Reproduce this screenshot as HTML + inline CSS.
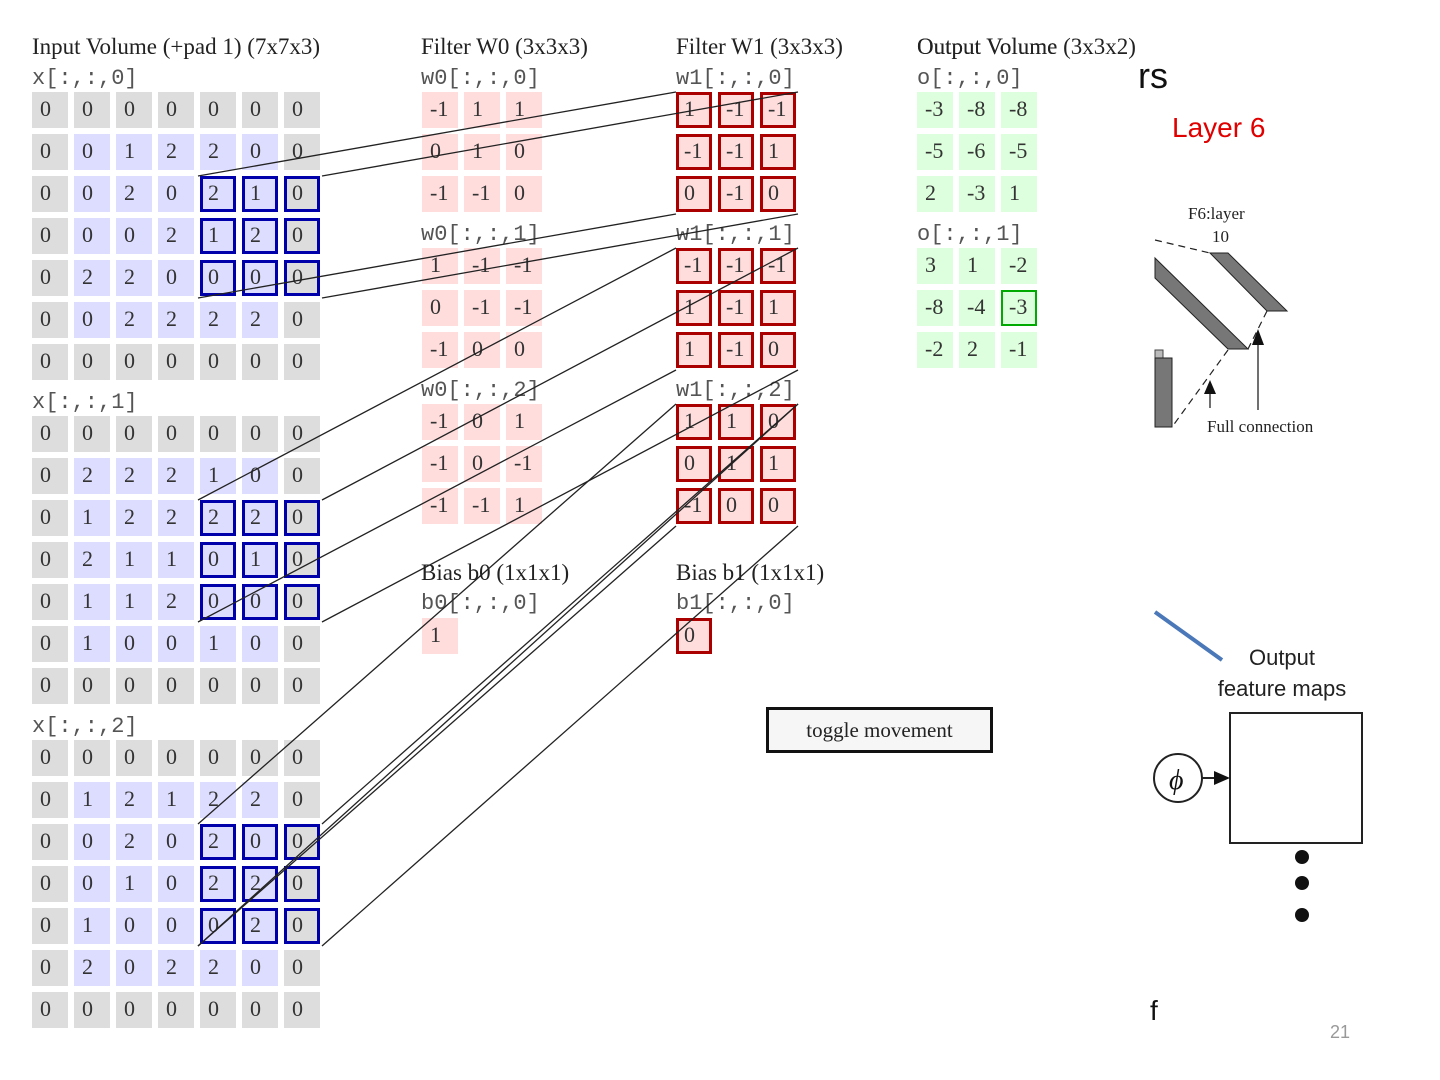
<!DOCTYPE html>
<html><head><meta charset="utf-8"><style>
body{margin:0;width:1440px;height:1080px;background:#fff;position:relative;overflow:hidden;font-family:"Liberation Serif",serif;}
.t{position:absolute;font-size:23px;color:#222;white-space:nowrap;}
.m{position:absolute;font-family:"Liberation Mono",monospace;font-size:22px;color:#555;white-space:nowrap;}
.g{position:absolute;}
.r{display:flex;height:36px;margin-bottom:6px;}
.r div{width:36px;height:36px;margin-right:6px;box-sizing:border-box;font-size:22px;line-height:34px;padding-left:8px;color:#333;flex:none;}
.p{background:#dddddd;}.i{background:#ddddff;}
.r div.s{border:2px solid #0000aa;box-shadow:inset 0 0 0 1px #0000aa;padding-left:6px;line-height:30px;}
.w .r div{background:#ffdddd;}
.w1 .r div{background:#ffdddd;border:2px solid #aa0000;box-shadow:inset 0 0 0 1px #aa0000;padding-left:6px;line-height:30px;}
.o .r div{background:#ddffdd;}
.o .r div.hl{border:2px solid #00aa00;padding-left:6px;line-height:30px;}
</style></head><body>
<div class="t" style="left:32px;top:34px">Input Volume (+pad 1) (7x7x3)</div>
<div class="m" style="left:32px;top:66px">x[:,:,0]</div>
<div class="g" style="left:32px;top:92px">
<div class="r"><div class="p">0</div><div class="p">0</div><div class="p">0</div><div class="p">0</div><div class="p">0</div><div class="p">0</div><div class="p">0</div></div>
<div class="r"><div class="p">0</div><div class="i">0</div><div class="i">1</div><div class="i">2</div><div class="i">2</div><div class="i">0</div><div class="p">0</div></div>
<div class="r"><div class="p">0</div><div class="i">0</div><div class="i">2</div><div class="i">0</div><div class="i s">2</div><div class="i s">1</div><div class="p s">0</div></div>
<div class="r"><div class="p">0</div><div class="i">0</div><div class="i">0</div><div class="i">2</div><div class="i s">1</div><div class="i s">2</div><div class="p s">0</div></div>
<div class="r"><div class="p">0</div><div class="i">2</div><div class="i">2</div><div class="i">0</div><div class="i s">0</div><div class="i s">0</div><div class="p s">0</div></div>
<div class="r"><div class="p">0</div><div class="i">0</div><div class="i">2</div><div class="i">2</div><div class="i">2</div><div class="i">2</div><div class="p">0</div></div>
<div class="r"><div class="p">0</div><div class="p">0</div><div class="p">0</div><div class="p">0</div><div class="p">0</div><div class="p">0</div><div class="p">0</div></div>
</div>
<div class="m" style="left:32px;top:390px">x[:,:,1]</div>
<div class="g" style="left:32px;top:416px">
<div class="r"><div class="p">0</div><div class="p">0</div><div class="p">0</div><div class="p">0</div><div class="p">0</div><div class="p">0</div><div class="p">0</div></div>
<div class="r"><div class="p">0</div><div class="i">2</div><div class="i">2</div><div class="i">2</div><div class="i">1</div><div class="i">0</div><div class="p">0</div></div>
<div class="r"><div class="p">0</div><div class="i">1</div><div class="i">2</div><div class="i">2</div><div class="i s">2</div><div class="i s">2</div><div class="p s">0</div></div>
<div class="r"><div class="p">0</div><div class="i">2</div><div class="i">1</div><div class="i">1</div><div class="i s">0</div><div class="i s">1</div><div class="p s">0</div></div>
<div class="r"><div class="p">0</div><div class="i">1</div><div class="i">1</div><div class="i">2</div><div class="i s">0</div><div class="i s">0</div><div class="p s">0</div></div>
<div class="r"><div class="p">0</div><div class="i">1</div><div class="i">0</div><div class="i">0</div><div class="i">1</div><div class="i">0</div><div class="p">0</div></div>
<div class="r"><div class="p">0</div><div class="p">0</div><div class="p">0</div><div class="p">0</div><div class="p">0</div><div class="p">0</div><div class="p">0</div></div>
</div>
<div class="m" style="left:32px;top:714px">x[:,:,2]</div>
<div class="g" style="left:32px;top:740px">
<div class="r"><div class="p">0</div><div class="p">0</div><div class="p">0</div><div class="p">0</div><div class="p">0</div><div class="p">0</div><div class="p">0</div></div>
<div class="r"><div class="p">0</div><div class="i">1</div><div class="i">2</div><div class="i">1</div><div class="i">2</div><div class="i">2</div><div class="p">0</div></div>
<div class="r"><div class="p">0</div><div class="i">0</div><div class="i">2</div><div class="i">0</div><div class="i s">2</div><div class="i s">0</div><div class="p s">0</div></div>
<div class="r"><div class="p">0</div><div class="i">0</div><div class="i">1</div><div class="i">0</div><div class="i s">2</div><div class="i s">2</div><div class="p s">0</div></div>
<div class="r"><div class="p">0</div><div class="i">1</div><div class="i">0</div><div class="i">0</div><div class="i s">0</div><div class="i s">2</div><div class="p s">0</div></div>
<div class="r"><div class="p">0</div><div class="i">2</div><div class="i">0</div><div class="i">2</div><div class="i">2</div><div class="i">0</div><div class="p">0</div></div>
<div class="r"><div class="p">0</div><div class="p">0</div><div class="p">0</div><div class="p">0</div><div class="p">0</div><div class="p">0</div><div class="p">0</div></div>
</div>

<div class="t" style="left:421px;top:34px">Filter W0 (3x3x3)</div>
<div class="m" style="left:421px;top:66px">w0[:,:,0]</div>
<div class="g w" style="left:422px;top:92px">
<div class="r"><div>-1</div><div>1</div><div>1</div></div>
<div class="r"><div>0</div><div>1</div><div>0</div></div>
<div class="r"><div>-1</div><div>-1</div><div>0</div></div></div>
<div class="m" style="left:421px;top:222px">w0[:,:,1]</div>
<div class="g w" style="left:422px;top:248px">
<div class="r"><div>1</div><div>-1</div><div>-1</div></div>
<div class="r"><div>0</div><div>-1</div><div>-1</div></div>
<div class="r"><div>-1</div><div>0</div><div>0</div></div></div>
<div class="m" style="left:421px;top:378px">w0[:,:,2]</div>
<div class="g w" style="left:422px;top:404px">
<div class="r"><div>-1</div><div>0</div><div>1</div></div>
<div class="r"><div>-1</div><div>0</div><div>-1</div></div>
<div class="r"><div>-1</div><div>-1</div><div>1</div></div></div>
<div class="t" style="left:421px;top:560px">Bias b0 (1x1x1)</div>
<div class="m" style="left:421px;top:591px">b0[:,:,0]</div>
<div class="g w" style="left:422px;top:618px"><div class="r"><div>1</div></div></div>

<div class="t" style="left:676px;top:34px">Filter W1 (3x3x3)</div>
<div class="m" style="left:676px;top:66px">w1[:,:,0]</div>
<div class="g w1" style="left:676px;top:92px">
<div class="r"><div>1</div><div>-1</div><div>-1</div></div>
<div class="r"><div>-1</div><div>-1</div><div>1</div></div>
<div class="r"><div>0</div><div>-1</div><div>0</div></div></div>
<div class="m" style="left:676px;top:222px">w1[:,:,1]</div>
<div class="g w1" style="left:676px;top:248px">
<div class="r"><div>-1</div><div>-1</div><div>-1</div></div>
<div class="r"><div>1</div><div>-1</div><div>1</div></div>
<div class="r"><div>1</div><div>-1</div><div>0</div></div></div>
<div class="m" style="left:676px;top:378px">w1[:,:,2]</div>
<div class="g w1" style="left:676px;top:404px">
<div class="r"><div>1</div><div>1</div><div>0</div></div>
<div class="r"><div>0</div><div>1</div><div>1</div></div>
<div class="r"><div>-1</div><div>0</div><div>0</div></div></div>
<div class="t" style="left:676px;top:560px">Bias b1 (1x1x1)</div>
<div class="m" style="left:676px;top:591px">b1[:,:,0]</div>
<div class="g w1" style="left:676px;top:618px"><div class="r"><div>0</div></div></div>

<div class="t" style="left:917px;top:34px">Output Volume (3x3x2)</div>
<div class="m" style="left:917px;top:66px">o[:,:,0]</div>
<div class="g o" style="left:917px;top:92px">
<div class="r"><div>-3</div><div>-8</div><div>-8</div></div>
<div class="r"><div>-5</div><div>-6</div><div>-5</div></div>
<div class="r"><div>2</div><div>-3</div><div>1</div></div></div>
<div class="m" style="left:917px;top:222px">o[:,:,1]</div>
<div class="g o" style="left:917px;top:248px">
<div class="r"><div>3</div><div>1</div><div>-2</div></div>
<div class="r"><div>-8</div><div>-4</div><div class="hl">-3</div></div>
<div class="r"><div>-2</div><div>2</div><div>-1</div></div></div>

<div style="position:absolute;left:766px;top:707px;width:221px;height:40px;border:3px solid #111;background:#f6f6f6;font-size:21px;line-height:40px;text-align:center;color:#222">toggle movement</div>

<svg style="position:absolute;left:0;top:0" width="1440" height="1080">
<g stroke="#222" stroke-width="1.3" fill="none">
<line x1="198" y1="176" x2="676" y2="92"/><line x1="322" y1="176" x2="798" y2="92"/>
<line x1="198" y1="298" x2="676" y2="214"/><line x1="322" y1="298" x2="798" y2="214"/>
<line x1="198" y1="500" x2="676" y2="248"/><line x1="322" y1="500" x2="798" y2="248"/>
<line x1="198" y1="622" x2="676" y2="370"/><line x1="322" y1="622" x2="798" y2="370"/>
<line x1="198" y1="824" x2="676" y2="404"/><line x1="322" y1="824" x2="798" y2="404"/>
<line x1="198" y1="946" x2="676" y2="526"/><line x1="322" y1="946" x2="798" y2="526"/>
<line x1="198" y1="946" x2="798" y2="404"/>
</g>
<text x="1138" y="88" font-family="Liberation Sans,sans-serif" font-size="36" fill="#111">rs</text>
<text x="1172" y="137" font-family="Liberation Sans,sans-serif" font-size="28" fill="#e00000">Layer 6</text>
<text x="1188" y="219" font-family="Liberation Serif,serif" font-size="17" fill="#222">F6:layer</text>
<text x="1212" y="242" font-family="Liberation Serif,serif" font-size="17" fill="#222">10</text>
<g stroke="#222" stroke-width="1.2" stroke-dasharray="7,5" fill="none">
<line x1="1155" y1="240" x2="1210" y2="253"/>
<line x1="1267" y1="311" x2="1248" y2="349"/>
<line x1="1228" y1="350" x2="1172" y2="427"/>
</g>
<polygon points="1210,253 1228,253 1287,311 1267,311" fill="#777" stroke="#222" stroke-width="1"/>
<polygon points="1155,258 1248,349 1228,349 1155,278" fill="#777" stroke="#222" stroke-width="1"/>
<rect x="1155" y="350" width="8" height="8" fill="#bbb" stroke="#444"/>
<rect x="1155" y="358" width="17" height="69" fill="#777" stroke="#222"/>
<g stroke="#222" stroke-width="1.3"><line x1="1210" y1="408" x2="1210" y2="392"/><line x1="1258" y1="410" x2="1258" y2="340"/></g>
<polygon points="1204,394 1216,394 1210,380" fill="#111"/>
<polygon points="1252,345 1264,345 1258,329" fill="#111"/>
<text x="1207" y="432" font-family="Liberation Serif,serif" font-size="17" fill="#222">Full connection</text>
<line x1="1155" y1="612" x2="1222" y2="660" stroke="#4a78b8" stroke-width="4"/>
<text x="1282" y="665" text-anchor="middle" font-family="Liberation Sans,sans-serif" font-size="22" fill="#222">Output</text>
<text x="1282" y="696" text-anchor="middle" font-family="Liberation Sans,sans-serif" font-size="22" fill="#222">feature maps</text>
<rect x="1230" y="713" width="132" height="130" fill="none" stroke="#222" stroke-width="2"/>
<circle cx="1178" cy="778" r="24" fill="#fff" stroke="#222" stroke-width="2"/>
<text x="1169" y="789" font-family="Liberation Serif,serif" font-style="italic" font-size="28" fill="#111">ϕ</text>
<line x1="1202" y1="778" x2="1215" y2="778" stroke="#222" stroke-width="2"/>
<polygon points="1214,771 1230,778 1214,785" fill="#111"/>
<circle cx="1302" cy="857" r="7" fill="#111"/><circle cx="1302" cy="883" r="7" fill="#111"/><circle cx="1302" cy="915" r="7" fill="#111"/>
<rect x="1060" y="0" width="93" height="60" fill="#fff"/>
<rect x="1100" y="140" width="53" height="940" fill="#fff"/>
<text x="1150" y="1020" font-family="Liberation Sans,sans-serif" font-size="28" fill="#111">f</text>
<text x="1330" y="1038" font-family="Liberation Sans,sans-serif" font-size="18" fill="#999">21</text>
</svg>
<div class="t" style="left:917px;top:34px;background:transparent">Output Volume (3x3x2)</div>
</body></html>
